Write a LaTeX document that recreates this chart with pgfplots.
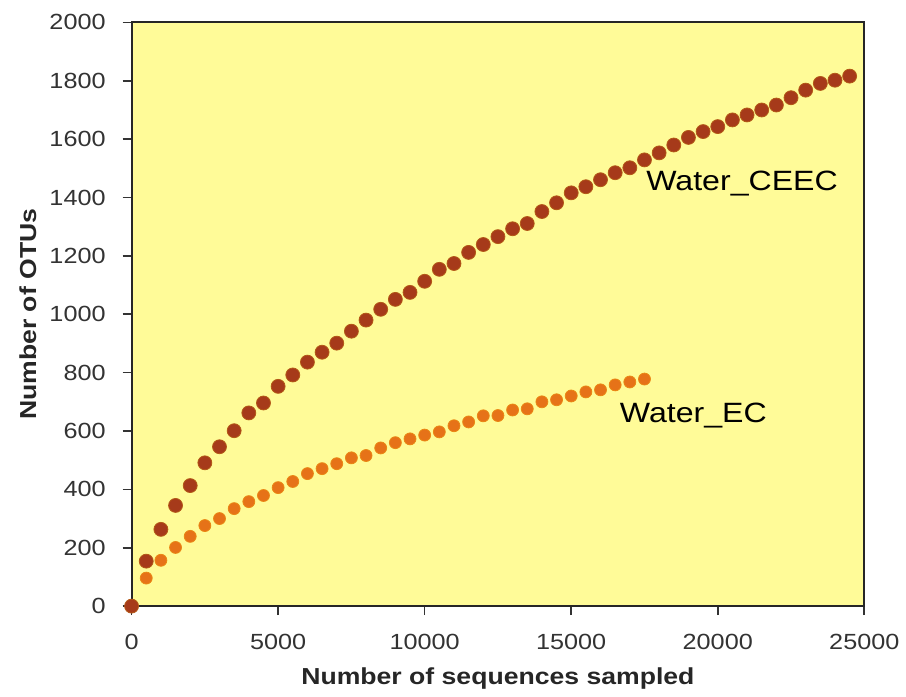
\documentclass[border=0pt]{standalone}
\usepackage{fontspec}
\setmainfont{Liberation Sans}[FakeStretch=1.15]
\usepackage{pgfplots}
\pgfplotsset{compat=1.18}
\definecolor{bgyellow}{RGB}{255,251,152}
\definecolor{ceec}{RGB}{166,58,26}
\definecolor{ec}{RGB}{230,114,24}
\begin{document}
\begin{tikzpicture}
\begin{axis}[
  scale only axis,
  width=367.5pt, height=292.75pt,
  xmin=0, xmax=25000, ymin=0, ymax=2000,
  xtick={0,5000,...,25000}, ytick={0,200,...,2000},
  axis background/.style={fill=bgyellow},
  axis line style={draw=black!85, line width=1pt},
  tick align=outside, tick pos=left,
  major tick length=4.5pt,
  tick style={black!80, line width=0.8pt},
  scaled ticks=false,
  /pgf/number format/assume math mode=true,
  /pgf/number format/1000 sep={},
  ticklabel style={font=\fontsize{11}{13}\selectfont, text=black!80},
  yticklabel style={xshift=-5pt},
  xticklabel style={yshift=-6pt},
  xlabel={Number of sequences sampled},
  ylabel={Number of OTUs},
  label style={font=\fontsize{11.6}{13}\selectfont\bfseries, text=black!85},
  xlabel style={at={(axis description cs:0.5,-0.1247)}, anchor=center},
  ylabel style={at={(axis description cs:-0.1415,0.5)}, anchor=center},
  clip=false,
]
\addplot[only marks, mark=*, mark size=3pt, mark options={fill=ec, draw=ec!85!yellow, line width=0.4pt}] coordinates {
(0,0) (500,96) (1000,157) (1500,201) (2000,239) (2500,276) (3000,300) (3500,334)
(4000,358) (4500,379) (5000,406) (5500,427) (6000,454) (6500,471) (7000,488)
(7500,508) (8000,516) (8500,542) (9000,560) (9500,573) (10000,586) (10500,597)
(11000,618) (11500,631) (12000,652) (12500,653) (13000,672) (13500,676)
(14000,700) (14500,707) (15000,720) (15500,734) (16000,741) (16500,758)
(17000,768) (17500,778)
};
\addplot[only marks, mark=*, mark size=3.5pt, mark options={fill=ceec, draw=ceec!85!yellow, line width=0.4pt}] coordinates {
(0,0) (500,154) (1000,263) (1500,345) (2000,413) (2500,491) (3000,546) (3500,601)
(4000,662) (4500,696) (5000,753) (5500,792) (6000,836) (6500,870) (7000,901)
(7500,942) (8000,980) (8500,1017) (9000,1051) (9500,1075) (10000,1113)
(10500,1154) (11000,1174) (11500,1212) (12000,1239) (12500,1266) (13000,1293)
(13500,1311) (14000,1352) (14500,1382) (15000,1416) (15500,1437) (16000,1461)
(16500,1485) (17000,1502) (17500,1529) (18000,1553) (18500,1580) (19000,1606)
(19500,1626) (20000,1643) (20500,1666) (21000,1683) (21500,1700) (22000,1717)
(22500,1742) (23000,1768) (23500,1791) (24000,1802) (24500,1816)
};
\node[anchor=west, inner sep=0pt, font=\fontsize{14}{16}\selectfont] at (axis cs:17550,1448) {Water\_CEEC};
\node[anchor=west, inner sep=0pt, font=\fontsize{14}{16}\selectfont] at (axis cs:16650,652) {Water\_EC};
\end{axis}
\path (-66pt,-44pt) rectangle (387pt,304pt);
\end{tikzpicture}
\end{document}
